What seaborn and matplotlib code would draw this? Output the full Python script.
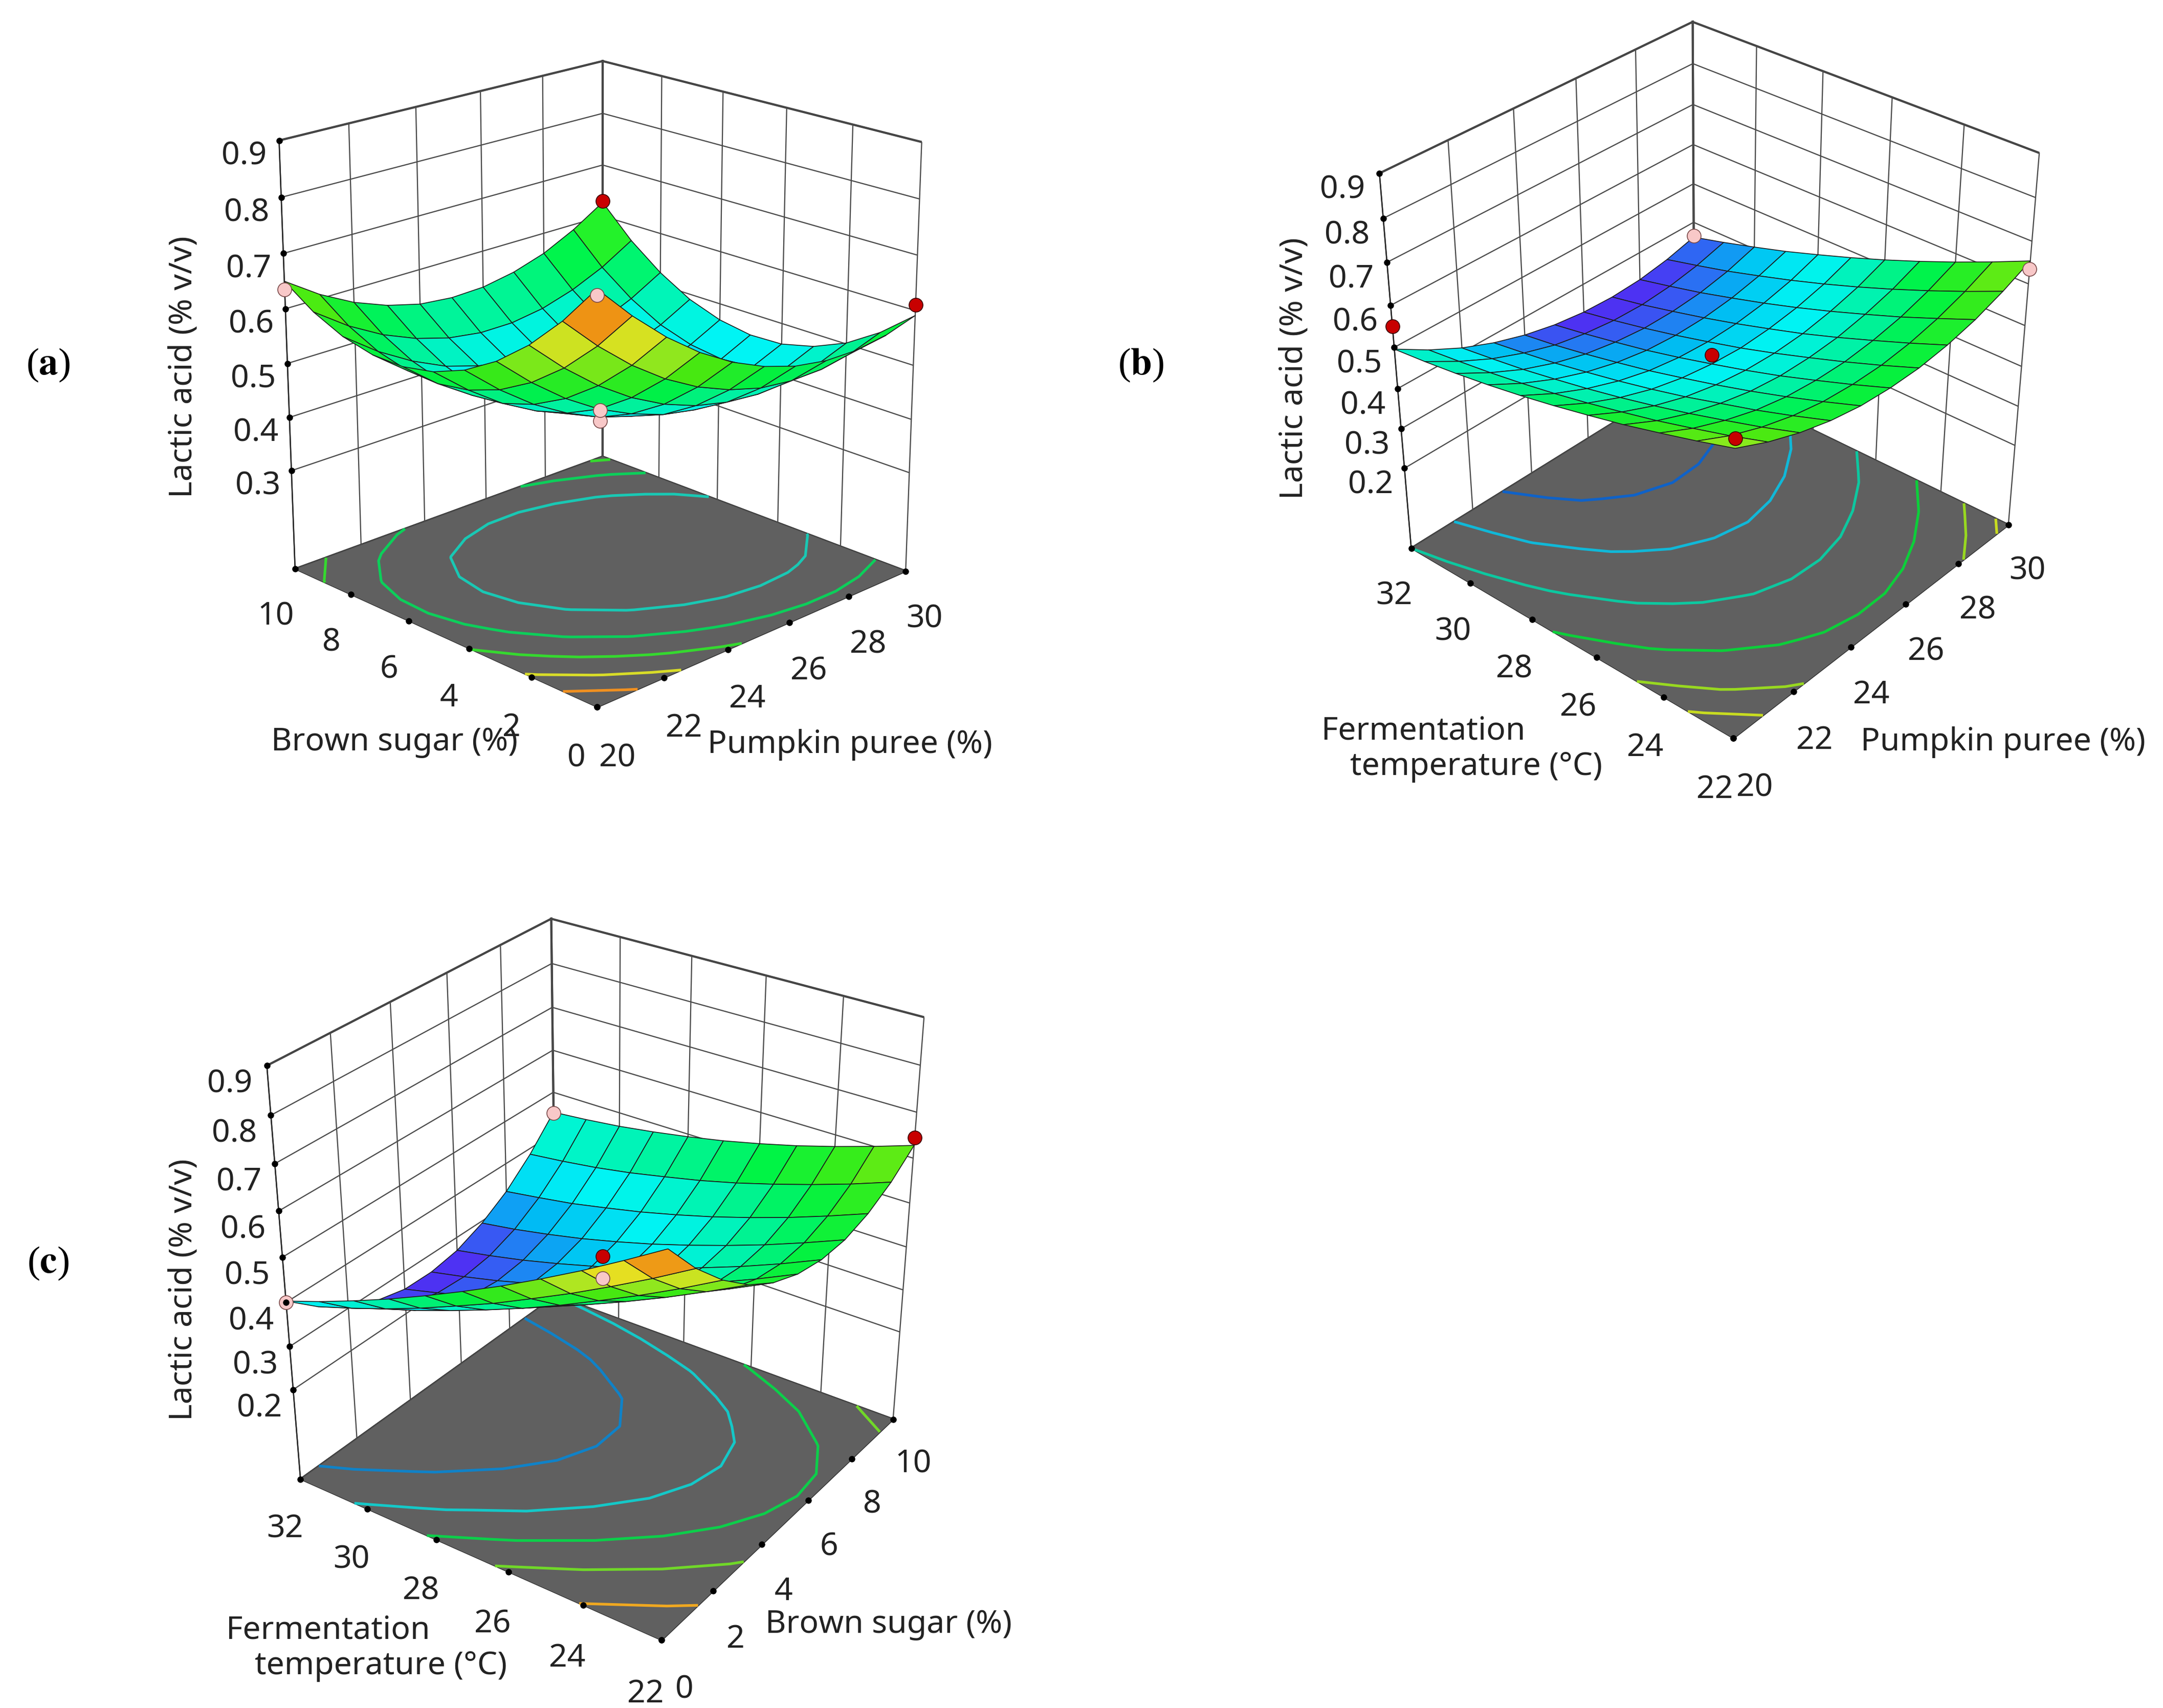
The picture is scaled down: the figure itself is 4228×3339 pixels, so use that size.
import numpy as np
import matplotlib
matplotlib.use("Agg")
import matplotlib.pyplot as plt
from matplotlib.colors import LightSource, Normalize
from matplotlib.transforms import ScaledTranslation
import seaborn as sns

sns.set_theme(style="white")
plt.rcParams['font.family'] = ['Noto Sans', 'DejaVu Sans']
plt.rcParams['mathtext.fontset'] = 'stix'

pumpkin = [20, 21, 22, 23, 24, 25, 26, 27, 28, 29, 30]
sugar = [0, 1, 2, 3, 4, 5, 6, 7, 8, 9, 10]
temp = [22, 23, 24, 25, 26, 27, 28, 29, 30, 31, 32]

pumpkin_ticks = [20, 22, 24, 26, 28, 30]
sugar_ticks = [0, 2, 4, 6, 8, 10]
temp_ticks = [22, 24, 26, 28, 30, 32]
z_ticks_a = [0.3, 0.4, 0.5, 0.6, 0.7, 0.8, 0.9]
z_ticks_bc = [0.2, 0.3, 0.4, 0.5, 0.6, 0.7, 0.8, 0.9]

# rows: sugar, columns: pumpkin
lactic_a = [
    [.820, .758, .704, .659, .623, .596, .577, .567, .566, .574, .591],
    [.749, .689, .637, .594, .560, .535, .518, .511, .512, .522, .541],
    [.690, .632, .582, .541, .509, .486, .472, .466, .469, .481, .502],
    [.643, .587, .539, .500, .471, .449, .437, .434, .439, .453, .476],
    [.608, .554, .508, .472, .444, .425, .414, .413, .420, .437, .461],
    [.585, .533, .489, .455, .429, .412, .404, .404, .414, .432, .459],
    [.574, .524, .483, .450, .426, .411, .405, .408, .419, .440, .469],
    [.575, .527, .488, .457, .436, .423, .419, .423, .437, .459, .490],
    [.588, .542, .505, .476, .457, .446, .444, .451, .466, .491, .524],
    [.613, .569, .534, .508, .490, .481, .481, .490, .508, .534, .569],
    [.650, .608, .575, .551, .535, .529, .531, .542, .561, .590, .627],
]
# rows: temperature, columns: pumpkin
lactic_b = [
    [.673, .639, .612, .592, .579, .574, .575, .584, .600, .624, .654],
    [.647, .611, .583, .562, .548, .542, .542, .550, .565, .587, .616],
    [.623, .586, .557, .534, .519, .512, .511, .518, .531, .552, .580],
    [.600, .562, .532, .509, .492, .483, .482, .487, .500, .519, .546],
    [.580, .541, .509, .484, .467, .457, .454, .458, .470, .488, .514],
    [.561, .521, .488, .462, .444, .433, .428, .432, .442, .459, .484],
    [.544, .503, .469, .442, .422, .410, .405, .407, .416, .432, .456],
    [.529, .487, .452, .424, .403, .389, .383, .384, .392, .407, .429],
    [.516, .473, .436, .407, .385, .371, .363, .363, .369, .383, .405],
    [.505, .461, .423, .393, .369, .354, .345, .343, .349, .362, .382],
    [.496, .450, .411, .380, .356, .339, .329, .326, .330, .342, .361],
]
# rows: sugar, columns: temperature
lactic_c = [
    [.805, .754, .705, .659, .615, .574, .535, .498, .464, .432, .403],
    [.726, .677, .631, .587, .546, .506, .470, .435, .403, .374, .347],
    [.661, .614, .570, .529, .489, .452, .418, .386, .356, .329, .304],
    [.609, .565, .523, .484, .447, .412, .380, .350, .323, .298, .275],
    [.571, .529, .490, .452, .418, .385, .355, .328, .303, .280, .259],
    [.547, .507, .470, .435, .402, .372, .344, .319, .296, .276, .258],
    [.536, .498, .463, .431, .400, .372, .347, .324, .303, .285, .269],
    [.538, .503, .470, .440, .412, .386, .363, .342, .324, .308, .295],
    [.555, .522, .491, .463, .437, .414, .393, .375, .358, .345, .333],
    [.585, .554, .526, .500, .476, .455, .437, .420, .406, .395, .386],
    [.628, .600, .574, .550, .529, .510, .494, .480, .468, .459, .452],
]

levels_a = [.475, .545, .611, .68, .747]
levels_b = [.38, .435, .496, .555, .605, .64]
levels_c = [.367, .452, .525, .60, .70]
line_colors_a = ['#19c8b4', '#0ccf5a', '#35d92f', '#d8dc28', '#f09020']
line_colors_b = ['#0f62c8', '#10b8d8', '#0cc8a0', '#0ccf3a', '#98d820', '#c8dc20']
line_colors_c = ['#0f82c8', '#14c8c8', '#0ccf4a', '#70d828', '#f0a820']

# experimental points: x, y, z
pts_a_red = ([30, 30], [10, 0], [.63, .61])
pts_a_pink = ([20, 20, 25, 25], [10, 0, 5, 5], [.635, .81, .415, .395])
pts_b_red = ([20, 25, 20], [32, 27, 22], [.55, .455, .695])
pts_b_pink = ([30, 30], [32, 22], [.365, .635])
pts_c_red = ([10, 5], [22, 27], [.645, .44])
pts_c_pink = ([0, 10, 5], [32, 32, 27], [.40, .45, .39])

sw = 1568 / 4228
W, H = 4228, 3339
fig = plt.figure(figsize=(W / 300, H / 300), dpi=300, facecolor='white')

stops = ['#4a30ff', '#00b0ff', '#00f0f0', '#00f2a0', '#00e840', '#40e010', '#a0e020', '#e4d820', '#e87810', '#b83a10']
cmap = sns.blend_palette(stops, as_cmap=True)
FS = 15

def shift_labels(ax, axis, dx, dy):
    off = ScaledTranslation(dx / sw / 300, -dy / sw / 300, fig.dpi_scale_trans)
    for tick in axis.get_major_ticks():
        tick.label1.set_transform(ax.transData + off)

def panel(cx, cy, side, xv, yv, Z, xt, yt, zt, zfloor, elev, azim, hr, focal, levels, lcolors,
          red, pink, norm, xshift, yshift, zshift):
    left = (cx - 0.5135 * side) / W
    bottom = (H - cy - 0.5135 * side) / H
    ax = fig.add_axes([left, bottom, side / W, side / H], projection='3d', computed_zorder=False)
    ax.patch.set_alpha(0)
    ax.set_proj_type('persp', focal_length=focal)
    ax.view_init(elev=elev, azim=azim)
    ax.set_box_aspect((1, 1, hr))
    ax.set_xlim(min(xv), max(xv), view_margin=0)
    ax.set_ylim(min(yv), max(yv), view_margin=0)
    ax.set_zlim(zfloor, 0.9, view_margin=0)
    ax.set_xticks(xt)
    ax.set_yticks(yt)
    ax.set_zticks(zt)
    ax.set_zticklabels([f'{t:.1f}' for t in zt])
    for axis in (ax.xaxis, ax.yaxis, ax.zaxis):
        axis.set_pane_color((1, 1, 1, 1))
        axis.pane.set_edgecolor('#333333')
        axis._axinfo['grid'].update(color='#4a4a4a', linewidth=0.55)
        axis._axinfo['tick'].update(inward_factor=0, outward_factor=0)
        axis._axinfo['axisline']['color'] = (0.1, 0.1, 0.1, 1)
        axis.line.set_linewidth(0.6)
    ax.tick_params(labelsize=FS, colors='#222222')
    ax.tick_params(axis='x', pad=3)
    ax.tick_params(axis='y', pad=3)
    ax.tick_params(axis='z', pad=2)
    ax.zaxis.set_ticks_position('upper')
    shift_labels(ax, ax.xaxis, *xshift)
    shift_labels(ax, ax.yaxis, *yshift)
    shift_labels(ax, ax.zaxis, *zshift)
    X, Y = np.meshgrid(xv, yv)
    Z = np.array(Z)
    # floor
    ax.plot_surface(np.array([[xv[0], xv[-1]], [xv[0], xv[-1]]]), np.array([[yv[0], yv[0]], [yv[-1], yv[-1]]]),
                    np.full((2, 2), zfloor), color='#606060', shade=False, zorder=2, linewidth=0)
    ax.contour(X, Y, Z, levels=levels, colors=lcolors, zdir='z', offset=zfloor, linewidths=1.25, zorder=3)
    zc = 0.25 * (Z[:-1, :-1] + Z[1:, :-1] + Z[:-1, 1:] + Z[1:, 1:])
    fc = cmap(norm(zc))
    fc[..., :3] = np.clip(fc[..., :3] * 1.1, 0, 1)
    ax.plot_surface(X, Y, Z, facecolors=fc, rcount=11, ccount=11, edgecolor='#1c1c1c',
                    linewidth=0.4, shade=True, lightsource=LightSource(azdeg=225, altdeg=60), zorder=5)
    ax.scatter(*pink, c='#f8c8c8', s=42, edgecolors='#7a4a4a', linewidths=0.4, depthshade=False, zorder=6)
    ax.scatter(*red, c='#c80000', s=42, edgecolors='#3a0000', linewidths=0.4, depthshade=False, zorder=7)
    # tick dots
    ax.scatter(xt, [yv[0]] * len(xt), [zfloor] * len(xt), c='black', s=9, depthshade=False, zorder=8, linewidths=0)
    ax.scatter([xv[0]] * len(yt), yt, [zfloor] * len(yt), c='black', s=9, depthshade=False, zorder=8, linewidths=0)
    ax.scatter([xv[0]] * len(zt), [yv[-1]] * len(zt), zt, c='black', s=9, depthshade=False, zorder=8, linewidths=0)
    return ax

panel(1173, 706, 1470, pumpkin, sugar, lactic_a, pumpkin_ticks, sugar_ticks, z_ticks_a, 0.112, 20, -134.5, 1.03, 0.75,
      levels_a, line_colors_a, pts_a_red, pts_a_pink, Normalize(.34, .82), (14, -34), (-13, -34), (-12, -44))
panel(3346, 702, 1460, pumpkin, temp, lactic_b, pumpkin_ticks, temp_ticks, z_ticks_bc, -0.01, 33, -138.7, 1.0, 0.6,
      levels_b, line_colors_b, pts_b_red, pts_b_pink, Normalize(.34, .82), (17, -38), (-24, -38), (-12, -48))
panel(1178, 2454, 1495, sugar, temp, np.array(lactic_c).T, sugar_ticks, temp_ticks, z_ticks_bc, -0.015, 30, -145, 1.05, 0.55,
      levels_c, line_colors_c, pts_c_red, pts_c_pink, Normalize(.27, .82), (11, -39), (-27, -48), (2, -49))

def label(x, y, s, rot=0, **kw):
    fig.text(x / sw / W, 1 - y / sw / H, s, rotation=rot, ha='center', va='center', fontsize=FS, color='#222222', **kw)

label(133, 266, 'Lactic acid (% v/v)', 90)
label(286, 538, 'Brown sugar (%)')
label(616, 540, 'Pumpkin puree (%)')
label(938, 267, 'Lactic acid (% v/v)', 90)
label(1032, 530, 'Fermentation')
label(1070, 556, 'temperature (°C)')
label(1452, 538, 'Pumpkin puree (%)')
label(133, 935, 'Lactic acid (% v/v)', 90)
label(238, 1182, 'Fermentation')
label(276, 1208, 'temperature (°C)')
label(644, 1178, 'Brown sugar (%)')
for x, y, c in [(35, 265, 'a'), (827, 265, 'b'), (35, 916, 'c')]:
    fig.text(x / sw / W, 1 - y / sw / H, f'($\\mathbf{{{c}}}$)', ha='center', va='center', fontsize=18,
             family='Liberation Serif', color='black')

fig.savefig('out.png', dpi=300)
